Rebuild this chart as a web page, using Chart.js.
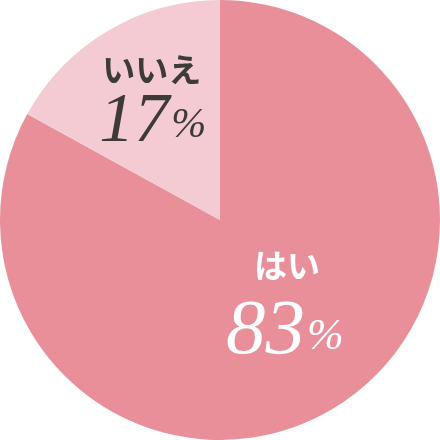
<!DOCTYPE html>
<html>
<head>
<meta charset="utf-8">
<script src="https://cdn.jsdelivr.net/npm/chart.js@4/dist/chart.umd.min.js"></script>
<style>
	html, body { margin: 0; padding: 0; background: #fff; }
	#wrap { width: 440px; height: 440px; }
</style>
</head>
<body>
<div id="wrap"><canvas id="chart-1"></canvas></div>
<script>
var labels = ['はい', 'いいえ'];
var values = [83, 17];
var colors = ['#E98F99', '#F5CBD3'];
var textColors = ['#ffffff', '#3d3a38'];

// where each label goes, as a fraction of the radius from the centre
var namePos = [[0.305, 0.205], [-0.31, -0.686]];
var numPos = [[0.29, 0.605], [-0.31, -0.36]];
var numSize = [79, 70];
var pctSize = [44, 42];

var labelPlugin = {
	id: 'sliceLabels',
	afterDatasetsDraw: function(chart) {
		var ctx = chart.ctx;
		var arcs = chart.getDatasetMeta(0).data;
		ctx.save();
		for (var i = 0; i < arcs.length; i++) {
			var a = arcs[i];
			var r = a.outerRadius;
			ctx.fillStyle = textColors[i];

			// name
			ctx.font = 'bold 33px "Noto Sans CJK JP"';
			ctx.textAlign = 'center';
			ctx.textBaseline = 'middle';
			ctx.fillText(labels[i], a.x + namePos[i][0] * r, a.y + namePos[i][1] * r);

			// number + small %
			var num = String(values[i]);
			ctx.textBaseline = 'alphabetic';
			ctx.font = 'italic ' + numSize[i] + 'px "Liberation Serif"';
			var w1 = ctx.measureText(num).width;
			ctx.font = 'italic ' + pctSize[i] + 'px "Liberation Serif"';
			var w2 = ctx.measureText('%').width;
			var left = a.x + numPos[i][0] * r - (w1 + w2) / 2;
			var base = a.y + numPos[i][1] * r;
			ctx.textAlign = 'left';
			ctx.font = 'italic ' + numSize[i] + 'px "Liberation Serif"';
			ctx.fillText(num, left, base);
			ctx.font = 'italic ' + pctSize[i] + 'px "Liberation Serif"';
			ctx.fillText('%', left + w1 + 2, base - 4);
		}
		ctx.restore();
	}
};

var graph = new Chart('chart-1', {
	type: 'pie',
	data: {
		labels: labels,
		datasets: [{
			data: values,
			backgroundColor: colors,
			borderWidth: 0
		}]
	},
	options: {
		responsive: true,
		maintainAspectRatio: false,
		animation: false,
		layout: { padding: 0 },
		plugins: {
			legend: { display: false },
			tooltip: { enabled: false }
		}
	},
	plugins: [labelPlugin]
});
</script>
</body>
</html>
